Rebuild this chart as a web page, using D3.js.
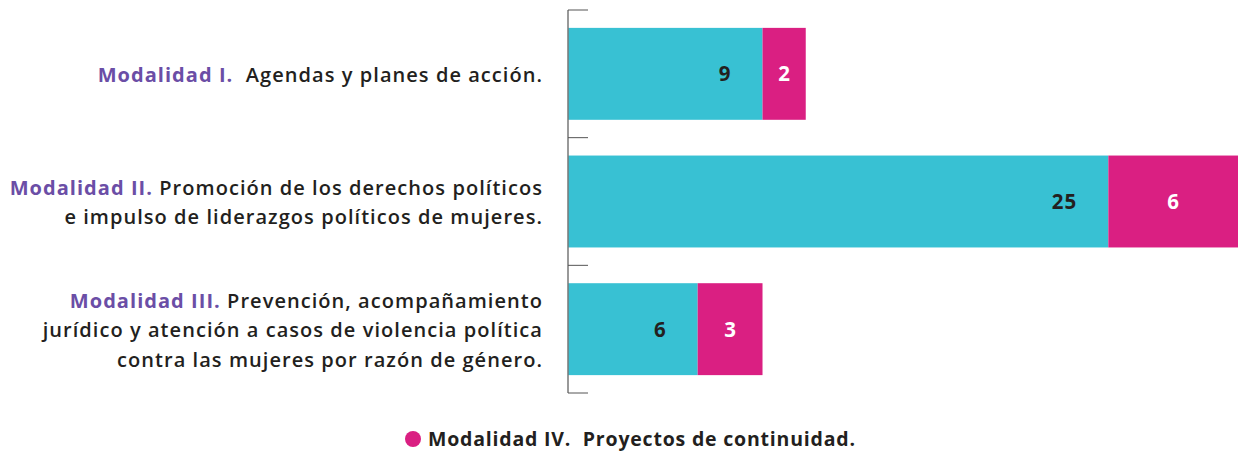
<!DOCTYPE html>
<html><head><meta charset="utf-8">
<script src="https://cdn.jsdelivr.net/npm/d3@7"></script>
<style>
body{margin:0;background:#fff;}
svg{display:block;font-family:"Open Sans",sans-serif;}
</style></head>
<body><svg id="c" width="1238" height="452"></svg>
<script>
const categories = ["Modalidad I.", "Modalidad II.", "Modalidad III."];
const descriptions = [
  ["Agendas y planes de acción."],
  ["Promoción de los derechos políticos", "e impulso de liderazgos políticos de mujeres."],
  ["Prevención, acompañamiento", "jurídico y atención a casos de violencia política", "contra las mujeres por razón de género."]
];
const prefixGap = [" ", "", ""];
const newProjects = [9, 25, 6];
const continuity = [2, 6, 3];
const legendLabel = ["Modalidad IV.", "Proyectos de continuidad."];

const svg = d3.select("#c");
const mLeft = 568, mRight = 1238, mTop = 10, mBottom = 393;
const colCyan = "#38C1D3", colPink = "#DA1F82", colPurple = "#6B4EA6", colText = "#231F20";
const fs = 20, ls = "1.05px";

const totals = newProjects.map((v,i)=>v+continuity[i]);
const x = d3.scaleLinear().domain([0, d3.max(totals)]).range([mLeft, mRight]);
const y = d3.scaleBand().domain(categories).range([mTop, mBottom]).paddingInner(0.28).paddingOuter(0.14);

// bars
const g = svg.append("g");
categories.forEach((c,i)=>{
  g.append("rect").attr("x", x(0)).attr("y", y(c)).attr("width", x(newProjects[i])-x(0))
   .attr("height", y.bandwidth()).attr("fill", colCyan);
  g.append("rect").attr("x", x(newProjects[i])).attr("y", y(c)).attr("width", x(totals[i])-x(newProjects[i]))
   .attr("height", y.bandwidth()).attr("fill", colPink);
  g.append("text").attr("x", x(newProjects[i]) - 31).attr("y", y(c)+y.bandwidth()/2)
   .attr("dy","0.36em").attr("text-anchor","end").attr("font-size",20.5).attr("font-weight",700)
   .attr("letter-spacing","1px").attr("fill", colText).text(newProjects[i]);
  const mid = (x(newProjects[i]) + x(totals[i]))/2;
  g.append("text").attr("x", mid).attr("y", y(c)+y.bandwidth()/2)
   .attr("dy","0.36em").attr("text-anchor","middle").attr("font-size",20.5).attr("font-weight",700)
   .attr("fill", "#fff").text(continuity[i]);
});

// axis: line with ticks at band boundaries pointing right
const step = y.step();
const boundaries = [mTop].concat(categories.map(c=>y(c)+y.bandwidth()+ (step-y.bandwidth())/2));
const ax = svg.append("g");
ax.append("line").attr("x1", mLeft).attr("x2", mLeft).attr("y1", mTop).attr("y2", mBottom)
  .attr("stroke", "#777").attr("stroke-width", 1.5);
boundaries.forEach(b=>{
  ax.append("line").attr("x1", mLeft).attr("x2", mLeft+20).attr("y1", b).attr("y2", b)
    .attr("stroke", "#555").attr("stroke-width", 1);
});

// category labels
const lh = 29.5;
categories.forEach((c,i)=>{
  const lines = descriptions[i];
  const cy = y(c)+y.bandwidth()/2 + 1;
  const y0 = cy - (lines.length-1)*lh/2;
  lines.forEach((ln,j)=>{
    const t = svg.append("text").attr("x", 543).attr("y", y0 + j*lh).attr("dy","0.36em")
      .attr("text-anchor","end").attr("font-size",fs).attr("font-weight",600).attr("fill", colText)
      .attr("letter-spacing", ls).attr("xml:space","preserve");
    if(j===0){
      t.append("tspan").attr("fill", colPurple).attr("font-weight",700).text(c);
      t.append("tspan").text(" " + prefixGap[i] + ln);
    } else t.text(ln);
  });
});

// legend
const lg = svg.append("g");
lg.append("circle").attr("cx", 413).attr("cy", 439).attr("r", 8).attr("fill", colPink);
lg.append("text").attr("x", 428).attr("y", 439).attr("dy","0.36em").attr("font-size",19.5)
  .attr("font-weight",700).attr("fill", colText).attr("letter-spacing","0.8px").attr("xml:space","preserve")
  .text(legendLabel[0] + "  " + legendLabel[1]);
</script></body></html>
